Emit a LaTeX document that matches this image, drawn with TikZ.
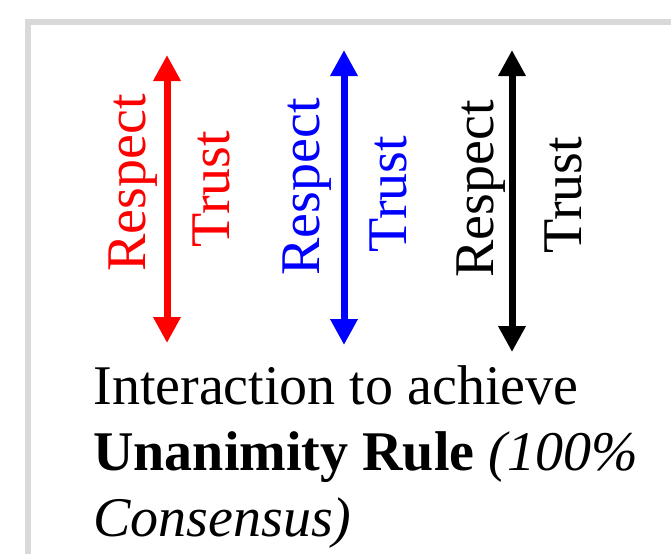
\documentclass[tikz,border=0pt]{standalone}
\usetikzlibrary{arrows.meta,positioning}
\usepackage{fontspec}
\setmainfont{Liberation Serif}
\definecolor{frm}{RGB}{217,217,217}
\definecolor{rr}{RGB}{255,0,0}
\definecolor{bb}{RGB}{0,0,255}
\definecolor{kk}{RGB}{0,0,0}
\tikzset{
  lbl/.style={rotate=90,anchor=base,inner sep=0pt,text=#1,
    font=\fontsize{28}{33}\selectfont},
  lbl/.default=kk,
  captxt/.style={anchor=north west,inner sep=0pt,align=left,
    font=\fontsize{28}{33}\selectfont},
  arr/.style={{Triangle[length=13pt,width=13pt]}-{Triangle[length=13pt,width=13pt]},
    line width=3.5pt,color=#1},
  arr/.default=kk,
  frame/.style={draw=frm,line width=3pt},
}

\begin{document}
\begin{tikzpicture}[x=0.5pt,y=-0.5pt]
    \useasboundingbox (0,0) rectangle (671,554);
    % grey frame, only top and left edges visible
    \draw[frame] (28,554) |- (671,22);

    % arrow ends
    \coordinate (rtop) at (167,55);
    \coordinate (rbot) at (167,343);
    \coordinate (btop) at (344,50);
    \coordinate (bbot) at (344,345);
    \coordinate (ktop) at (512,50);
    \coordinate (kbot) at (512,352);

    % labels
    \node[lbl=rr] (rspR) at (145,183) {Respect};
    \node[lbl=rr] (trsR) at (229,189) {Trust};
    \node[lbl=bb] (rspB) at (319,187) {Respect};
    \node[lbl=bb] (trsB) at (406,194) {Trust};
    \node[lbl=kk] (rspK) at (493,189) {Respect};
    \node[lbl=kk] (trsK) at (581,195) {Trust};

    \draw[arr=rr] (rtop)--(rbot);
    \draw[arr=bb] (btop)--(bbot);
    \draw[arr=kk] (ktop)--(kbot);

    % caption
    \node[captxt] (capt) at (93,365)
      {Interaction to achieve\\
       \textbf{Unanimity Rule} \textit{(100\%}\\
       \textit{Consensus)}};
  \end{tikzpicture}
\end{document}
